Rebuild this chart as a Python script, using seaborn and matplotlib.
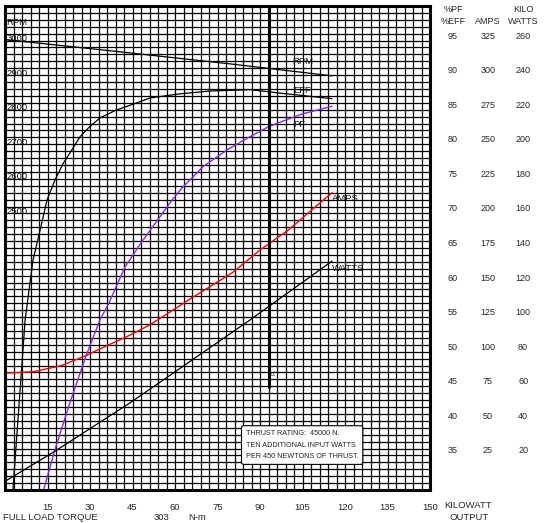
import numpy as np
import pandas as pd
import seaborn as sns
import matplotlib.pyplot as plt

# 曲线数据
rpm_kw = [0, 40, 80, 115.4]
rpm_val = [3003, 2968, 2932, 2898]

eff_kw = [2.8, 7.1, 9.9, 12.4, 14.8, 17.6, 20.5, 23.6, 26.5, 30.0, 33.5, 39.0, 45.2, 51.2, 61.8, 72.4, 86.5, 97.1, 115.4]
eff_pct = [30, 54.6, 63.3, 67.6, 71.9, 74.8, 77.2, 79.2, 81.1, 82.6, 83.8, 84.9, 85.8, 86.7, 87.3, 87.7, 87.9, 87.4, 86.6]

pf_kw = [13.4, 17.6, 22.9, 28.6, 33.5, 36.4, 42.4, 48.3, 58.9, 62.5, 70.0, 78.4, 86.5, 92.8, 97.1, 105.0, 115.4]
pf_pct = [29.7, 35.8, 42.6, 49.4, 54.6, 56.8, 62.3, 65.9, 71.9, 73.7, 76.8, 79.2, 81.1, 82.5, 83.2, 84.4, 85.5]

amps_kw = [0, 10, 20, 28.9, 33.5, 44.1, 51.2, 66.4, 80.5, 90, 100, 115.4]
amps_val = [84.5, 85.5, 90.0, 97.5, 102, 112, 119.5, 139.5, 157.5, 173.5, 188, 215]

watts_kw = [0, 17.6, 44.1, 56.5, 86.5, 115.4]
watts_val = [5, 22.4, 50.4, 64.4, 98.4, 132.4]

# 满载线
fl_kw = 93.2
fl_bottom = 44.75

# 坐标刻度标签
x_ticks = [15, 30, 45, 60, 75, 90, 105, 120, 135, 150]
pct_labels = [95, 90, 85, 80, 75, 70, 65, 60, 55, 50, 45, 40, 35]
amps_labels = [325, 300, 275, 250, 225, 200, 175, 150, 125, 100, 75, 50, 25]
kw_labels = [260, 240, 220, 200, 180, 160, 140, 120, 100, 80, 60, 40, 20]
rpm_labels = [3000, 2900, 2800, 2700, 2600, 2500]


# 换算到百分比刻度
def rpm_to_pct(r):
    return 95 + (np.asarray(r) - 3000) / 20


def amps_to_pct(a):
    return 35 + (np.asarray(a) - 25) / 5


def kw_to_pct(k):
    return 35 + (np.asarray(k) - 20) / 4


sns.set_style("white")
plt.rcParams['font.family'] = ['Liberation Sans', 'DejaVu Sans']

W, H = 546, 523
fig = plt.figure(figsize=(W / 100, H / 100), dpi=100)
ax = fig.add_axes([5 / W, 1 - 490 / H, 425 / W, 484 / H])

ax.set_xlim(0, 150)
ax.set_ylim(30, 100)

# 网格
ax.set_xticks(np.arange(0, 151, 3), minor=True)
ax.set_yticks(np.arange(30, 101, 1), minor=True)
ax.set_xticks(x_ticks)
ax.set_yticks([])
ax.grid(which='both', color='black', lw=0.9)
ax.set_axisbelow(True)
ax.tick_params(axis='x', which='both', length=0, pad=9, labelsize=6.8)
for s in ax.spines.values():
    s.set_linewidth(2.2)
    s.set_color('black')

# 曲线
lw = 0.9
sns.lineplot(x=rpm_kw, y=rpm_to_pct(rpm_val), ax=ax, color='black', lw=lw)
sns.lineplot(x=eff_kw, y=eff_pct, ax=ax, color='black', lw=lw)
sns.lineplot(x=pf_kw, y=pf_pct, ax=ax, color='#8a2be2', lw=1.0)
sns.lineplot(x=amps_kw, y=amps_to_pct(amps_val), ax=ax, color='#ff0000', lw=1.0)
sns.lineplot(x=watts_kw, y=kw_to_pct(watts_val), ax=ax, color='black', lw=lw)
ax.vlines(fl_kw, fl_bottom, 100, color='black', lw=2.2)
ax.text(fl_kw + 1.7, 47.1, 'FL', fontsize=4, rotation=90, ha='center', va='center')

# 曲线标签
ax.text(105.2, 92.0, 'RPM', fontsize=6.8, ha='center', va='center', color='#111111')
ax.text(104.8, 87.8, 'EFF', fontsize=6.8, ha='center', va='center', color='#111111')
ax.text(103.8, 82.9, 'PF', fontsize=6.8, ha='center', va='center', color='#111111')
ax.text(115.4, 72.1, 'AMPS', fontsize=6.8, ha='left', va='center', color='#111111')
ax.text(115.4, 62.1, 'WATTS', fontsize=6.8, ha='left', va='center', color='#111111')

# 左侧转速标签
ax.text(0.6, 97.6, 'RPM', fontsize=6.8, ha='left', va='center', color='#111111')
for r in rpm_labels:
    ax.text(0.6, rpm_to_pct(r) + 0.3, str(r), fontsize=6.8, ha='left', va='center', color='#111111')

# 右侧刻度
tr = ax.get_yaxis_transform()
for p, a, k in zip(pct_labels, amps_labels, kw_labels):
    ax.text(1.054, p + 0.66, str(p), transform=tr, fontsize=6.5, ha='center', va='center', clip_on=False)
    ax.text(1.136, p + 0.66, str(a), transform=tr, fontsize=6.5, ha='center', va='center', clip_on=False)
    ax.text(1.219, p + 0.66, str(k), transform=tr, fontsize=6.5, ha='center', va='center', clip_on=False)

fig.text(453 / W, 1 - 10 / H, '%PF', fontsize=6.5, ha='center', va='center')
fig.text(453 / W, 1 - 21 / H, '%EFF', fontsize=6.5, ha='center', va='center')
fig.text(488 / W, 1 - 21 / H, 'AMPS', fontsize=6.5, ha='center', va='center')
fig.text(523 / W, 1 - 10 / H, 'KILO', fontsize=6.5, ha='center', va='center')
fig.text(523 / W, 1 - 21 / H, 'WATTS', fontsize=6.5, ha='center', va='center')

# 底部文字
fig.text(3 / W, 1 - 518 / H, 'FULL LOAD TORQUE', fontsize=6.8, ha='left', va='center')
fig.text(161 / W, 1 - 518 / H, '303', fontsize=6.8, ha='center', va='center')
fig.text(197 / W, 1 - 518 / H, 'N-m', fontsize=6.8, ha='center', va='center')
fig.text(468 / W, 1 - 506 / H, 'KILOWATT', fontsize=6.8, ha='center', va='center')
fig.text(469 / W, 1 - 517 / H, 'OUTPUT', fontsize=6.8, ha='center', va='center')

# 推力说明框
ax.text(85.0, 36.5, 'THRUST RATING:  45000 N.\nTEN ADDITIONAL INPUT WATTS\nPER 450 NEWTONS OF THRUST.',
        fontsize=5.2, ha='left', va='center', linespacing=1.9, color='#222222',
        bbox=dict(boxstyle='round,pad=0.6,rounding_size=0.3', facecolor='white', edgecolor='black', lw=0.8))

fig.savefig('out.png', dpi=100)
